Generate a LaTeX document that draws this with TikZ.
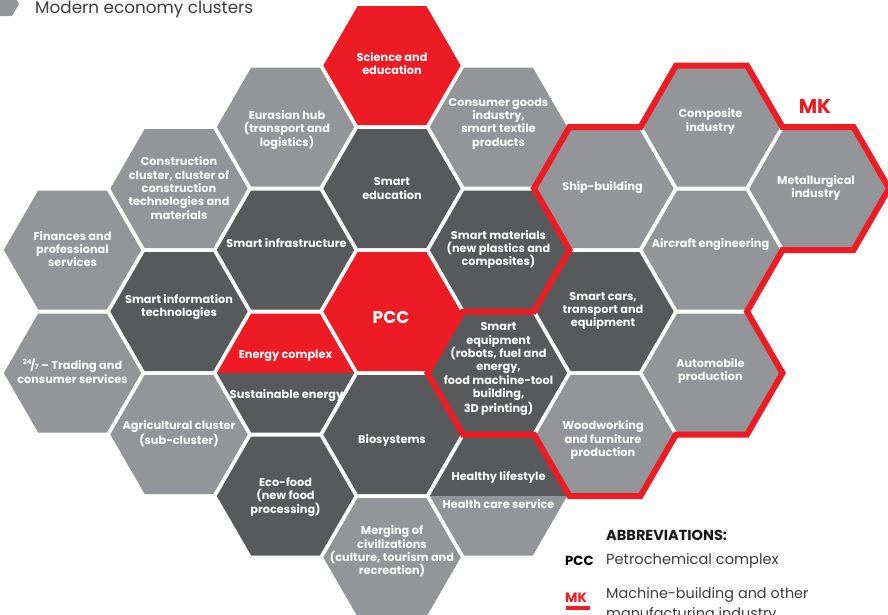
\documentclass[tikz,border=0pt]{standalone}
\usepackage{fontspec}
\setmainfont{Poppins}
\usetikzlibrary{calc}
\definecolor{cred}{HTML}{ED1C24}
\definecolor{cdark}{HTML}{58595B}
\definecolor{clight}{HTML}{939598}
\definecolor{ctext}{HTML}{3C3C3E}
\newcommand\hexfill[3]{%
  \fill[#3] ({#1+68.7},{#2}) -- ({#1+34.35},{#2-59.5}) -- ({#1-34.35},{#2-59.5}) -- ({#1-68.7},{#2}) -- ({#1-34.35},{#2+59.5}) -- ({#1+34.35},{#2+59.5}) -- cycle;}
\newcommand\hexsplit[4]{%
  \fill[#3] ({#1+68.7},{#2}) -- ({#1+34.35},{#2-59.5}) -- ({#1-34.35},{#2-59.5}) -- ({#1-68.7},{#2}) -- cycle;
  \fill[#4] ({#1+68.7},{#2}) -- ({#1+34.35},{#2+59.5}) -- ({#1-34.35},{#2+59.5}) -- ({#1-68.7},{#2}) -- cycle;}
\tikzset{
  lbl/.style={text=white, font=\bfseries\fontsize{11.3}{13.4}\selectfont, align=center, inner sep=0pt},
  legtext/.style={anchor=base west, inner sep=0pt, text=ctext, font=\fontsize{14.6}{20}\selectfont},
  mkline/.style={cred, line width=6pt, line join=miter}
}
\begin{document}
\begin{tikzpicture}[x=1pt,y=-1pt]
\useasboundingbox (0,0) rectangle (888,614);
\clip (0,0) rectangle (888,614);
% legend marker
\fill[clight] (19,4) -- (12,16) -- (-2,16) -- (-9,4) -- (-2,-8) -- (12,-8) -- cycle;
\node[anchor=base west, inner sep=0pt, text=ctext, font=\fontsize{16.8}{20}\selectfont] (title) at (35,13) {Modern economy clusters};
% column 0
\hexfill{72.5}{250}{clight}
\hexfill{72.5}{373}{clight}
% column 1
\hexfill{179}{188.5}{clight}
\hexfill{179}{311.5}{cdark}
\hexfill{179}{434.5}{clight}
% column 2
\hexfill{285.5}{127}{clight}
\hexfill{285.5}{250}{cdark}
\hexsplit{285.5}{373}{cred}{cdark}
\hexfill{285.5}{496}{cdark}
% column 3
\hexfill{392}{65.5}{cred}
\hexfill{392}{188.5}{cdark}
\hexfill{392}{311.5}{cred}
\hexfill{392}{434.5}{cdark}
\hexfill{392}{557.5}{clight}
% column 4
\hexfill{498.5}{127}{clight}
\hexfill{498.5}{250}{cdark}
\hexfill{498.5}{373}{cdark}
\hexsplit{498.5}{496}{cdark}{clight}
% column 5
\hexfill{605}{188.5}{clight}
\hexfill{605}{311.5}{cdark}
\hexfill{605}{434.5}{clight}
% column 6
\hexfill{711.5}{127}{clight}
\hexfill{711.5}{250}{clight}
\hexfill{711.5}{373}{clight}
% column 7
\hexfill{818}{188.5}{clight}
% MK outline
\draw[mkline] (534,188.5) -- (569.5,127) -- (640.5,127) -- (676,65.5) -- (747,65.5) -- (782.5,127) -- (853.5,127) -- (889,188.5) -- (853.5,250) -- (782.5,250) -- (747,311.5) -- (782.5,373) -- (747,434.5) -- (676,434.5) -- (640.5,496) -- (569.5,496) -- (534,434.5) -- (463,434.5) -- (427.5,373) -- (463,311.5) -- (534,311.5) -- (569.5,250) -- cycle;
% labels
\node[lbl] (fin) at (72.5,249) {Finances and\\professional\\services};
\node[lbl] (trade) at (72.5,371) {\raisebox{0.45em}{\fontsize{7}{8}\selectfont 24}\kern-0.1em/\kern-0.05em{\fontsize{7}{8}\selectfont 7} -- Trading and\\consumer services};
\node[lbl] (constr) at (179,188) {Construction\\cluster, cluster of\\construction\\technologies and\\materials};
\node[lbl] (sit) at (179,307) {Smart information\\technologies};
\node[lbl] (agri) at (179,433.5) {Agricultural cluster\\(sub-cluster)};
\node[lbl] (eura) at (287,130) {Eurasian hub\\(transport and\\logistics)};
\node[lbl] (sinf) at (286.5,243) {Smart infrastructure};
\node[lbl] (energy) at (285.5,356) {Energy complex};
\node[lbl] (sust) at (286.5,396) {Sustainable energy};
\node[lbl] (eco) at (285.5,497) {Eco-food\\(new food\\processing)};
\node[lbl] (sci) at (392,63.5) {Science and\\education};
\node[lbl] (sedu) at (392,188.5) {Smart\\education};
\node[lbl, font=\bfseries\fontsize{17}{20}\selectfont] (pcc) at (391,317) {PCC};
\node[lbl] (bio) at (392,440) {Biosystems};
\node[lbl] (merge) at (392,551.5) {Merging of\\civilizations\\(culture, tourism and\\recreation)};
\node[lbl] (cons) at (498.5,123.5) {Consumer goods\\industry,\\smart textile\\products};
\node[lbl] (smat) at (498.5,249.5) {Smart materials\\(new plastics and\\composites)};
\node[lbl] (sequ) at (498.5,369) {Smart\\equipment\\(robots, fuel and\\energy,\\food machine-tool\\building,\\3D printing)};
\node[lbl] (healthy) at (498.5,477) {Healthy lifestyle};
\node[lbl] (hcare) at (498.5,504) {Health care service};
\node[lbl] (ship) at (602.5,188) {Ship-building};
\node[lbl] (scars) at (603,311) {Smart cars,\\transport and\\equipment};
\node[lbl] (wood) at (603,440) {Woodworking\\and furniture\\production};
\node[lbl] (comp) at (710.5,121.5) {Composite\\industry};
\node[lbl] (air) at (710.5,245) {Aircraft engineering};
\node[lbl] (auto) at (710.5,371) {Automobile\\production};
\node[lbl] (metal) at (816,188) {Metallurgical\\industry};
\node[inner sep=0pt, text=cred, font=\bfseries\fontsize{20}{24}\selectfont] (mk) at (815,106) {MK};
% abbreviations
\node[anchor=base west, inner sep=0pt, text=black!90, font=\bfseries\fontsize{14.5}{16}\selectfont] (abbr) at (606,540) {ABBREVIATIONS:};
\node[anchor=base west, inner sep=0pt, text=black, font=\bfseries\fontsize{13.2}{16}\selectfont] (pcck) at (565,565) {PCC};
\node[legtext] (pccv) at (606,564) {Petrochemical complex};
\node[anchor=base west, inner sep=0pt, text=cred, font=\bfseries\fontsize{13.5}{16}\selectfont] (mkk) at (565,602) {MK};
\fill[cred] (566,606) rectangle (590,610);
\node[legtext, font=\fontsize{14.4}{20}\selectfont] (mkv1) at (606,598) {Machine-building and other};
\node[legtext, font=\fontsize{14.4}{20}\selectfont] (mkv2) at (606,618) {manufacturing industry};
\end{tikzpicture}
\end{document}
